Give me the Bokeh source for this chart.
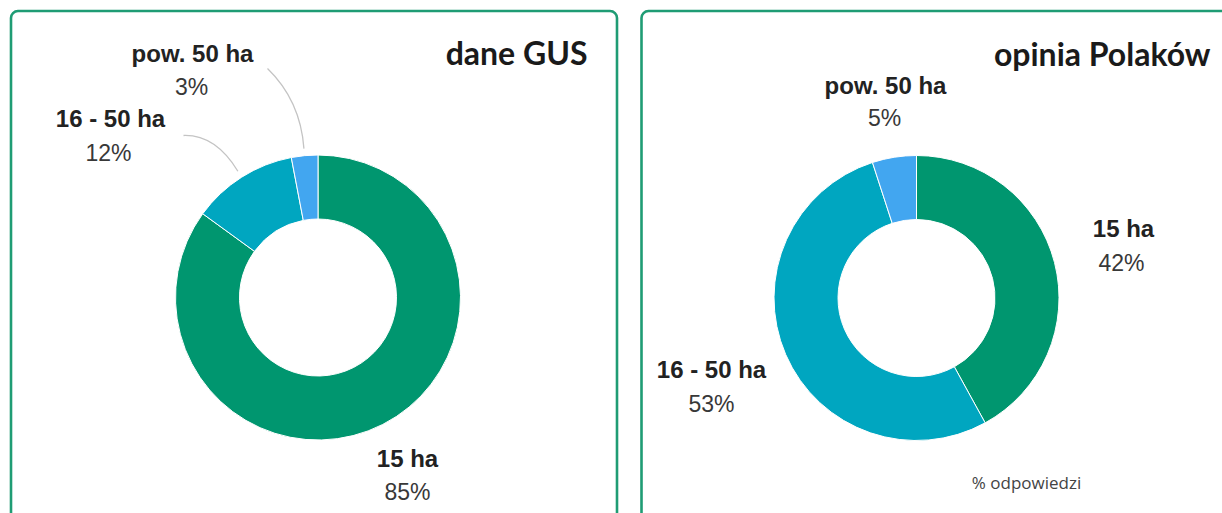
import math
from bokeh.plotting import figure
from bokeh.models import Range1d, BoxAnnotation, ColumnDataSource
from bokeh.core.properties import value
from bokeh.embed import file_html
from bokeh.resources import INLINE

# ---------------- data ----------------
categories = ["15 ha", "16 - 50 ha", "pow. 50 ha"]
gus_values = [85, 12, 3]          # dane GUS, %
opinia_values = [42, 53, 5]       # opinia Polaków, % odpowiedzi
slice_colors = ["#00966f", "#00a6c0", "#42a6f0"]
titles = ["dane GUS", "opinia Polaków"]
note = "% odpowiedzi"

# ---------------- layout ----------------
W, H = 1222, 513
OFF = 0


def X(sx):
    return sx - OFF


def Y(sy):
    return (H + OFF) - sy


p = figure(width=W, height=H, x_range=Range1d(0, W), y_range=Range1d(0, H),
           output_backend="svg", toolbar_location=None,
           x_axis_type=None, y_axis_type=None, min_border=0)
p.grid.visible = False
p.outline_line_color = None
p.background_fill_color = "white"
p.border_fill_color = "white"

BORDER = "#1f9c74"
p.add_layout(BoxAnnotation(left=X(10.5), right=X(616.5), top=Y(10.5), bottom=Y(900),
                           fill_color=None, line_color=BORDER, line_alpha=1.0,
                           line_width=2.6, border_radius=7))
p.add_layout(BoxAnnotation(left=X(641), right=X(1400), top=Y(10.5), bottom=Y(900),
                           fill_color=None, line_color=BORDER, line_alpha=1.0,
                           line_width=2.6, border_radius=7))

R_OUT, R_IN = 142.5, 78.5
LABEL_FONT = "Liberation Sans"


def donut(cx, cy, values, label_pos, leaders):
    total = float(sum(values))
    starts, ends, mids = [], [], []
    cum = 0.0
    for v in values:
        a0 = math.pi / 2 - 2 * math.pi * cum / total
        cum += v
        a1 = math.pi / 2 - 2 * math.pi * cum / total
        starts.append(a0)
        ends.append(a1)
        mids.append((a0 + a1) / 2)
    n = len(values)
    src = ColumnDataSource(dict(x=[X(cx)] * n, y=[Y(cy)] * n,
                                start=starts, end=ends, color=slice_colors))
    p.annular_wedge(x="x", y="y", inner_radius=R_IN, outer_radius=R_OUT,
                    start_angle="start", end_angle="end", direction="clock",
                    fill_color="color", line_color="white", line_width=1,
                    source=src)
    names_x, names_y, pct_x, pct_y, pct_t = [], [], [], [], []
    for i, (nx, ny, px, py) in enumerate(label_pos):
        names_x.append(X(nx)); names_y.append(Y(ny))
        pct_x.append(X(px)); pct_y.append(Y(py))
        pct_t.append(f"{values[i]}%")
    p.text(x=names_x, y=names_y, text=categories, text_align="center",
           text_baseline="middle", text_font=value(LABEL_FONT),
           text_font_size="24px", text_font_style="bold", text_color="#222222")
    p.text(x=pct_x, y=pct_y, text=pct_t, text_align="center",
           text_baseline="middle", text_font=value(LABEL_FONT),
           text_font_size="23px", text_color="#383838")
    for i, (sx0, sy0, ccx, ccy) in leaders.items():
        ex = X(cx) + (R_OUT + 7) * math.cos(mids[i])
        ey = Y(cy) + (R_OUT + 7) * math.sin(mids[i])
        p.quadratic(x0=[X(sx0)], y0=[Y(sy0)], x1=[ex], y1=[ey],
                    cx=[X(ccx)], cy=[Y(ccy)], line_color="#c4c4c4", line_width=1.3)


# left donut (dane GUS)
donut(317.5, 297, gus_values,
      [(407, 458, 407, 491), (110, 118, 108, 152), (192, 52.5, 191, 86)],
      {1: (183, 135, 215, 134), 2: (267, 68, 300, 100)})

# right donut (opinia Polaków)
donut(916, 297.5, opinia_values,
      [(1123, 228, 1121, 262), (711, 369, 711, 403), (885, 85, 884, 117.5)],
      {})

# titles
p.text(x=[X(587), X(1210)], y=[Y(52), Y(53)], text=titles, text_align="right",
       text_baseline="middle", text_font=value("Lato"), text_font_size="32px",
       text_font_style="bold", text_color="#1a1a1a")

p.text(x=[X(1026)], y=[Y(482)], text=[note], text_align="center",
       text_baseline="middle", text_font=value("Open Sans"), text_font_size="17px",
       text_color="#444444")

open("out.html", "w").write(file_html(p, INLINE))
